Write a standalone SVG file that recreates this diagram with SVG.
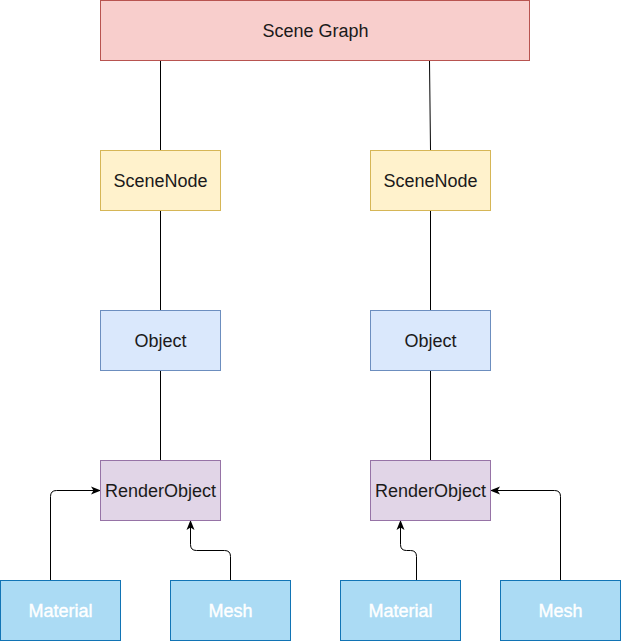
<svg xmlns="http://www.w3.org/2000/svg" width="621" height="641" viewBox="0 0 621 641">
<style>
.t{font-family:"Liberation Sans",Arial,sans-serif;font-size:18px;text-anchor:middle;dominant-baseline:central;fill:#1a1a1a}
.w{fill:#ffffff;stroke:#ffffff;stroke-width:0.4}
.red{fill:#f8cecc;stroke:#b85450}
.yel{fill:#fff2cc;stroke:#d6b656}
.blu{fill:#dae8fc;stroke:#6c8ebf}
.pur{fill:#e1d5e7;stroke:#9673a6}
.cy{fill:#abdbf4;stroke:#1174b5}
.ln{fill:none;stroke:#000;stroke-width:1}
</style>
<defs>
<marker id="ah" viewBox="0 0 10 10" refX="9" refY="5" markerWidth="10" markerHeight="10" markerUnits="userSpaceOnUse" orient="auto">
<path d="M0,1 L10,5 L0,9 L2.5,5 Z" fill="#000"/>
</marker>
</defs>
<g id="connectors">
<path class="ln" d="M160.5,60.5 V150.5"/>
<path class="ln" d="M429.5,60.5 L430.5,150.5"/>
<path class="ln" d="M160.5,210.5 V310.5"/>
<path class="ln" d="M430.5,210.5 V310.5"/>
<path class="ln" d="M160.5,370.5 V460.5"/>
<path class="ln" d="M430.5,370.5 V460.5"/>
<path class="ln" d="M50.5,580.5 V496.5 Q50.5,490.5 56.5,490.5 H100" marker-end="url(#ah)"/>
<path class="ln" d="M230.5,580.5 V556.5 Q230.5,550.5 224.5,550.5 H196.5 Q190.5,550.5 190.5,544.5 V521" marker-end="url(#ah)"/>
<path class="ln" d="M416.5,580.5 V556.5 Q416.5,550.5 410.5,550.5 H406.5 Q400.5,550.5 400.5,544.5 V521" marker-end="url(#ah)"/>
<path class="ln" d="M560.5,580.5 V496.5 Q560.5,490.5 554.5,490.5 H491" marker-end="url(#ah)"/>
</g>
<g id="scenegraph"><rect class="red" x="100.5" y="0.5" width="429" height="60"/><text class="t" x="315.5" y="31">Scene Graph</text></g>
<g id="scenenode1"><rect class="yel" x="100.5" y="150.5" width="120" height="60"/><text class="t" x="160.5" y="181">SceneNode</text></g>
<g id="scenenode2"><rect class="yel" x="370.5" y="150.5" width="120" height="60"/><text class="t" x="430.5" y="181">SceneNode</text></g>
<g id="object1"><rect class="blu" x="100.5" y="310.5" width="120" height="60"/><text class="t" x="160.5" y="341">Object</text></g>
<g id="object2"><rect class="blu" x="370.5" y="310.5" width="120" height="60"/><text class="t" x="430.5" y="341">Object</text></g>
<g id="renderobject1"><rect class="pur" x="100.5" y="460.5" width="120" height="60"/><text class="t" x="160.5" y="491">RenderObject</text></g>
<g id="renderobject2"><rect class="pur" x="370.5" y="460.5" width="120" height="60"/><text class="t" x="430.5" y="491">RenderObject</text></g>
<g id="material1"><rect class="cy" x="0.5" y="580.5" width="120" height="60"/><text class="t w" x="60.5" y="611">Material</text></g>
<g id="mesh1"><rect class="cy" x="170.5" y="580.5" width="120" height="60"/><text class="t w" x="230.5" y="611">Mesh</text></g>
<g id="material2"><rect class="cy" x="340.5" y="580.5" width="120" height="60"/><text class="t w" x="400.5" y="611">Material</text></g>
<g id="mesh2"><rect class="cy" x="500.5" y="580.5" width="120" height="60"/><text class="t w" x="560.5" y="611">Mesh</text></g>
</svg>
